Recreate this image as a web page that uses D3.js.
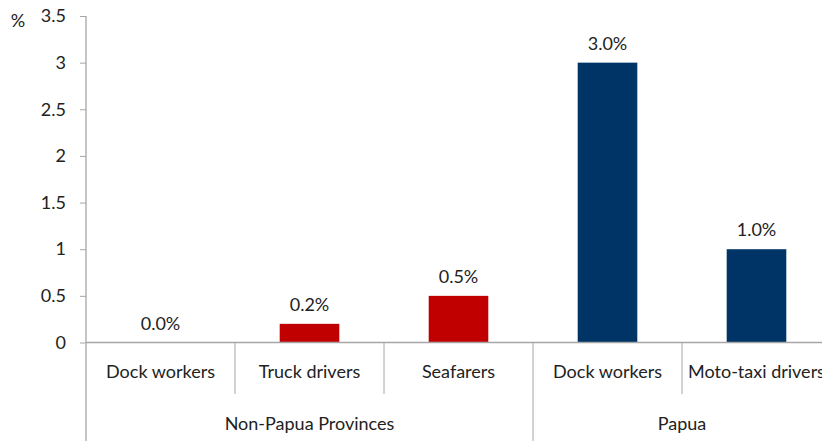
<!DOCTYPE html>
<html>
<head>
<meta charset="utf-8">
<script src="https://cdn.jsdelivr.net/npm/d3@7"></script>
<style>
  html, body { margin: 0; padding: 0; background: #fff; }
  svg { display: block; font-family: Lato, "Open Sans", sans-serif; }
</style>
</head>
<body>
<svg id="chart" width="822" height="441"></svg>
<script>
// Share of workers, by occupation and region (%)
const categories = ["Dock workers", "Truck drivers", "Seafarers", "Dock workers", "Moto-taxi drivers"];
const groups = ["Non-Papua Provinces", "Non-Papua Provinces", "Non-Papua Provinces", "Papua", "Papua"];
const values = [0.0, 0.2, 0.5, 3.0, 1.0];
const valueLabels = ["0.0%", "0.2%", "0.5%", "3.0%", "1.0%"];
const groupColors = { "Non-Papua Provinces": "#C00000", "Papua": "#003366" };
const yTicks = [0, 0.5, 1, 1.5, 2, 2.5, 3, 3.5];

const svg = d3.select("#chart");
const plotLeft = 86, plotRight = 831, plotTop = 16, plotBottom = 342.5;
const axisColor = "#A6A6A6";
const textColor = "#222";
const fontSize = "18px";

const x = d3.scaleBand().domain(d3.range(categories.length)).range([plotLeft, plotRight]).paddingInner(0).paddingOuter(0);
const y = d3.scaleLinear().domain([0, 3.5]).range([plotBottom, plotTop]);
const barW = x.bandwidth() * 0.4;

// y axis
const yAxis = svg.append("g").attr("transform", `translate(${plotLeft},0)`)
  .call(d3.axisLeft(y).tickValues(yTicks).tickSize(6).tickPadding(14).tickFormat(d3.format("")));
yAxis.select(".domain").remove();
yAxis.selectAll(".tick line").attr("stroke", axisColor);
yAxis.selectAll(".tick text").attr("fill", textColor).style("font-size", fontSize)
  .style("font-family", "Lato, 'Open Sans', sans-serif");

svg.append("line").attr("x1", plotLeft).attr("x2", plotLeft).attr("y1", plotTop).attr("y2", 441)
  .attr("stroke", axisColor).attr("stroke-width", 1.3);

svg.append("text").attr("x", 18).attr("y", 27).attr("text-anchor", "middle")
  .attr("fill", textColor).style("font-size", fontSize).text("%");

// bars
svg.append("g").selectAll("rect").data(values).join("rect")
  .attr("x", (d, i) => x(i) + (x.bandwidth() - barW) / 2)
  .attr("width", barW)
  .attr("y", d => y(d))
  .attr("height", d => y(0) - y(d))
  .attr("fill", (d, i) => groupColors[groups[i]]);

// value labels
svg.append("g").selectAll("text").data(values).join("text")
  .attr("x", (d, i) => x(i) + x.bandwidth() / 2)
  .attr("y", d => y(d) - 13)
  .attr("text-anchor", "middle")
  .attr("fill", textColor).style("font-size", fontSize)
  .text((d, i) => valueLabels[i]);

// x baseline
svg.append("line").attr("x1", plotLeft).attr("x2", 822).attr("y1", y(0)).attr("y2", y(0))
  .attr("stroke", axisColor).attr("stroke-width", 1.3);

// category separators
for (let i = 1; i < categories.length; i++) {
  const groupBreak = groups[i] !== groups[i - 1];
  svg.append("line").attr("x1", x(i)).attr("x2", x(i))
    .attr("y1", y(0)).attr("y2", groupBreak ? 441 : 394)
    .attr("stroke", axisColor).attr("stroke-width", 1);
}

// category labels
svg.append("g").selectAll("text").data(categories).join("text")
  .attr("x", (d, i) => x(i) + x.bandwidth() / 2)
  .attr("y", 378)
  .attr("text-anchor", "middle")
  .attr("fill", textColor).style("font-size", fontSize)
  .text(d => d);

// group labels
const groupNames = Array.from(new Set(groups));
groupNames.forEach(g => {
  const idx = groups.map((v, i) => v === g ? i : -1).filter(i => i >= 0);
  const x0 = x(idx[0]), x1 = x(idx[idx.length - 1]) + x.bandwidth();
  svg.append("text").attr("x", (x0 + x1) / 2).attr("y", 430)
    .attr("text-anchor", "middle").attr("fill", textColor).style("font-size", fontSize)
    .text(g);
});
</script>
</body>
</html>
